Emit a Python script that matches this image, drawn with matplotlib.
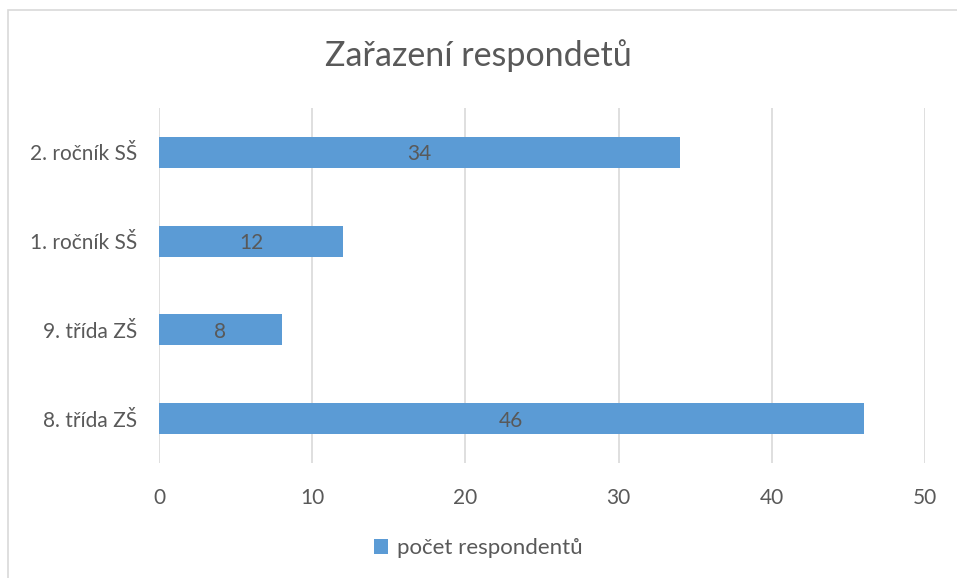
import matplotlib.pyplot as plt
from matplotlib.patches import Rectangle

categories = ['8. třída ZŠ', '9. třída ZŠ', '1. ročník SŠ', '2. ročník SŠ']
values = [46, 8, 12, 34]
series_name = 'počet respondentů'
title = 'Zařazení respondetů'

bar_color = '#5B9BD5'
text_color = '#595959'
grid_color = '#D9D9D9'
font = ['Lato', 'DejaVu Sans']

fig = plt.figure(figsize=(9.57, 5.78), dpi=100)
W, H = 957, 578

# outer chart frame (only left and top edges visible in the crop)
fig.patches.append(Rectangle((8 / W, -0.1), 1.2, 1 - 10 / H + 0.1,
                             transform=fig.transFigure, fill=False,
                             edgecolor='#D9D9D9', linewidth=1.2))

ax = fig.add_axes([159 / W, 1 - 463 / H, (925 - 159) / W, (463 - 108) / H])
bars = ax.barh(range(len(categories)), values, height=0.35, color=bar_color,
               label=series_name, zorder=3)

ax.set_xlim(0, 50)
ax.set_ylim(-0.5, 3.5)
ax.set_xticks(range(0, 51, 10))
ax.set_yticks(range(len(categories)))
ax.set_yticklabels(categories)
ax.grid(axis='x', color=grid_color, linewidth=1.2, zorder=0)
for s in ax.spines.values():
    s.set_visible(False)
ax.tick_params(length=0, colors=text_color, labelsize=15)
ax.tick_params(axis='y', pad=16)
ax.tick_params(axis='x', pad=18)
for lab in ax.get_xticklabels() + ax.get_yticklabels():
    lab.set_family(font)

for b, v in zip(bars, values):
    ax.text(b.get_width() / 2, b.get_y() + b.get_height() / 2, str(v),
            ha='center', va='center_baseline', color=text_color, fontsize=15,
            family=font, zorder=4)

fig.text(0.5, 1 - 56 / H, title, ha='center', va='center', fontsize=24.5,
         color=text_color, family=font)

fig.legend(handles=[bars], labels=[series_name], loc='center',
           bbox_to_anchor=(0.5, 1 - 548 / H), frameon=False,
           prop={'family': font, 'size': 16}, labelcolor=text_color,
           handlelength=0.65, handleheight=0.65, handletextpad=0.4)

fig.savefig('out.png', dpi=100)
